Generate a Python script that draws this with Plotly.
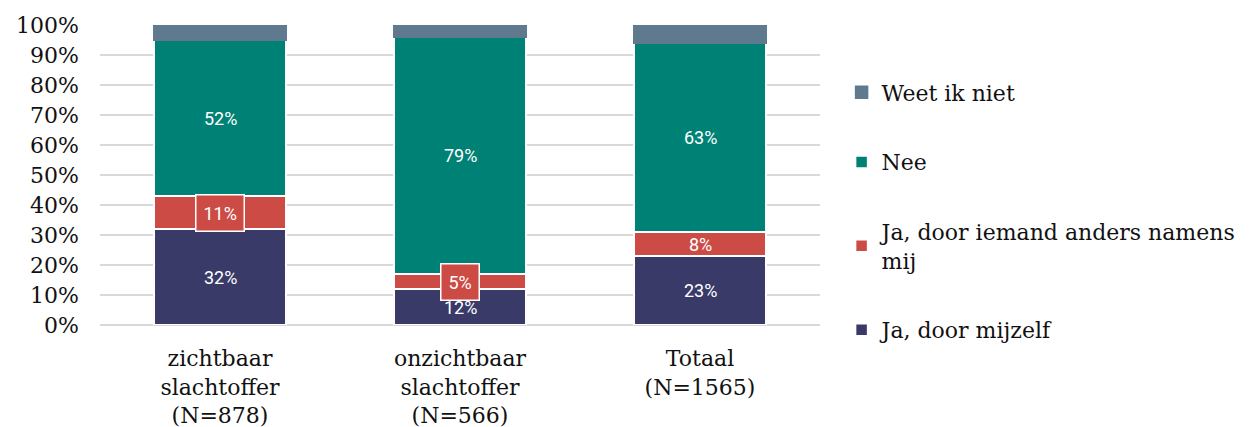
import plotly.graph_objects as go

categories = ["zichtbaar<br>slachtoffer<br>(N=878)", "onzichtbaar<br>slachtoffer<br>(N=566)", "Totaal<br>(N=1565)"]
series_names = ["Ja, door mijzelf", "Ja, door iemand anders namens<br>mij", "Nee", "Weet ik niet"]
ja_zelf = [32, 12, 23]
ja_ander = [11, 5, 8]
nee = [52, 79, 63]
weet_niet = [5, 4, 6]
boxed_ander = [True, True, False]

colors = ["#393a68", "#cc4c45", "#008175", "#5f7a8f"]
serif = "DejaVu Serif"
sans = "Roboto"

fig = go.Figure()
all_values = [ja_zelf, ja_ander, nee, weet_niet]
for i, (name, vals, col) in enumerate(zip(series_names, all_values, colors)):
    line_col = col if name == "Weet ik niet" else "white"
    # top segment first in the legend
    fig.add_trace(go.Bar(x=categories, y=vals, name=name, marker=dict(color=col, line=dict(color=line_col, width=1.5)),
                         width=0.55, legendgroup=name, legendrank=len(series_names) - i))

# data labels at the middle of each segment (not for "Weet ik niet")
base = [0, 0, 0]
for si, vals in enumerate(all_values[:3]):
    for ci, v in enumerate(vals):
        mid = base[ci] + v / 2
        boxed = si == 1 and boxed_ander[ci]
        fig.add_annotation(x=categories[ci], y=mid, text=f"{v}%", showarrow=False,
                           font=dict(family=sans, size=18, color="white"),
                           bgcolor=colors[1] if boxed else None,
                           bordercolor="white" if boxed else None, borderwidth=1.5 if boxed else 0, borderpad=7 if boxed else 0)
        base[ci] += v

# page body has an 8px margin, so the figure is 8px smaller than the window
fig.update_layout(
    barmode="stack", template="plotly_white", width=1248, height=419,
    margin=dict(l=92, r=436, t=17, b=102, autoexpand=False), plot_bgcolor="white", paper_bgcolor="white",
    legend=dict(traceorder="grouped", x=1.03, xanchor="left", y=0.845, yanchor="top", maxheight=400,
                font=dict(family=serif, size=22, color="#111"), tracegroupgap=38, itemwidth=30),
)
fig.update_yaxes(range=[0, 100], dtick=10, ticksuffix="%", showgrid=True, gridcolor="#d9d9d9", gridwidth=1.5,
                 zeroline=True, zerolinecolor="#d9d9d9", zerolinewidth=1.5, automargin=False,
                 tickfont=dict(family=serif, size=22, color="#111"), ticklabelstandoff=20)
fig.update_xaxes(tickfont=dict(family=serif, size=22, color="#111"), showline=False, ticklabelstandoff=18,
                 automargin=False)

fig.write_html("out.html")
